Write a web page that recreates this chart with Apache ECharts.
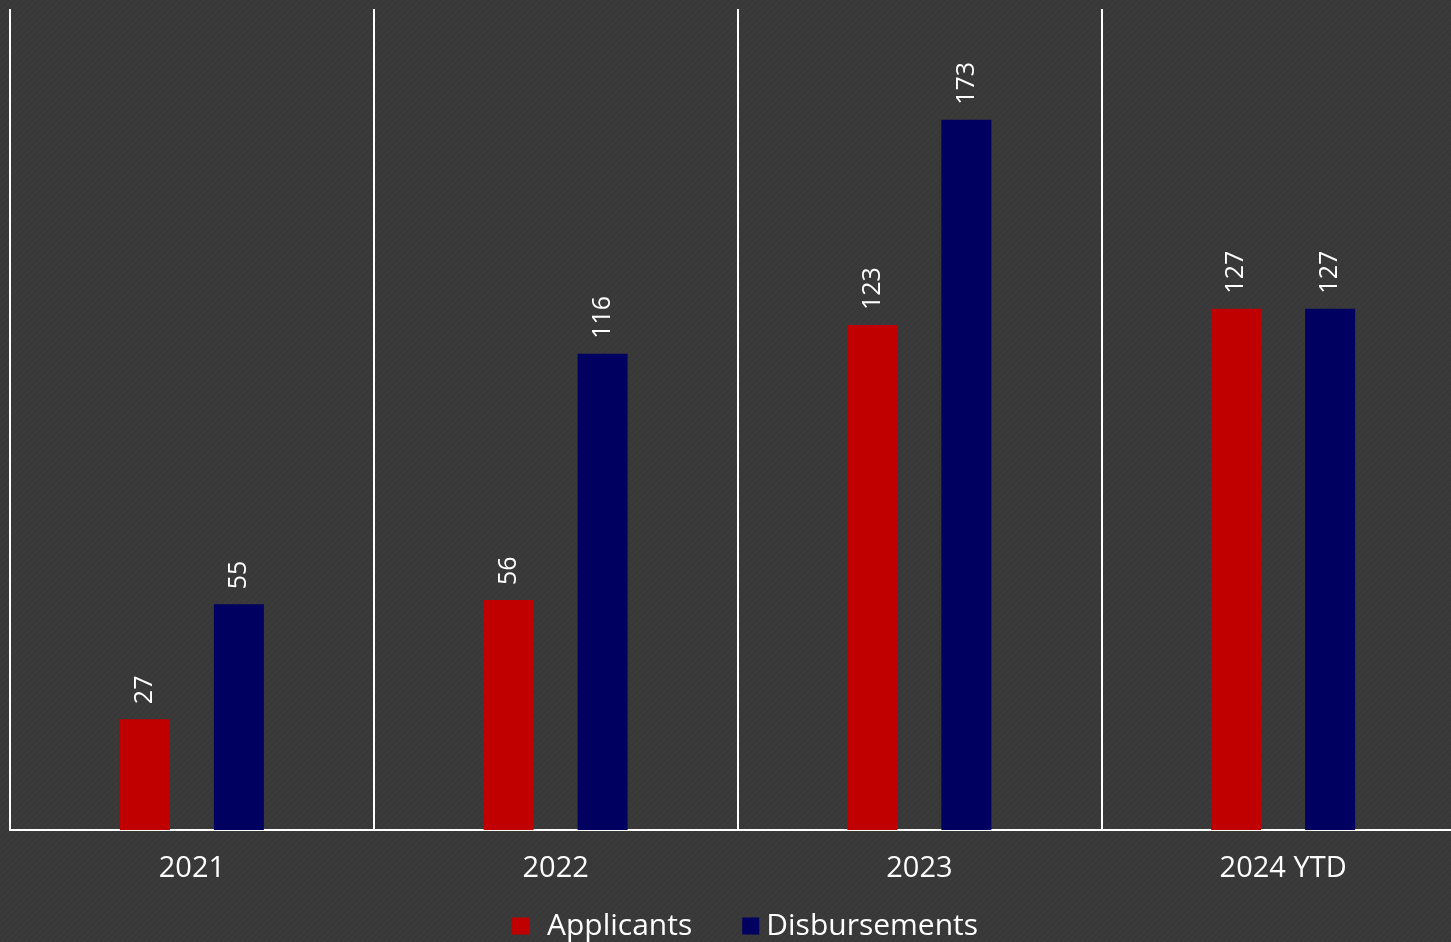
<!DOCTYPE html>
<html>
<head>
<meta charset="utf-8">
<script src="https://cdn.jsdelivr.net/npm/echarts@6/dist/echarts.min.js"></script>
<style>
html,body{margin:0;padding:0;background:#383838;overflow:hidden;}
#chart{width:1451px;height:942px;}
</style>
</head>
<body>
<div id="chart"></div>
<script>
const categories = ['2021', '2022', '2023', '2024 YTD'];
const applicants = [27, 56, 123, 127];
const disbursements = [55, 116, 173, 127];
const seriesNames = ['Applicants', 'Disbursements'];

// subtle diagonal stripe background pattern
const pc = document.createElement('canvas');
pc.width = 6; pc.height = 6;
const g = pc.getContext('2d');
g.fillStyle = '#383838';
g.fillRect(0, 0, 6, 6);
g.strokeStyle = '#3c3c3c';
g.lineWidth = 1.5;
g.beginPath();
g.moveTo(0, 6); g.lineTo(6, 0);
g.moveTo(-3, 3); g.lineTo(3, -3);
g.moveTo(3, 9); g.lineTo(9, 3);
g.stroke();

const chart = echarts.init(document.getElementById('chart'));
const labelStyle = {
  show: true,
  position: 'top',
  rotate: 90,
  align: 'left',
  verticalAlign: 'middle',
  distance: 15,
  color: '#ffffff',
  fontFamily: 'Open Sans',
  fontSize: 25
};
chart.setOption({
  animation: false,
  backgroundColor: {image: pc, repeat: 'repeat'},
  grid: {left: 10, top: 9, right: -14, height: 821, containLabel: false, outerBoundsMode: 'none'},
  legend: {
    show: true,
    data: seriesNames,
    left: 512,
    top: 911,
    padding: 0,
    itemWidth: 17,
    itemHeight: 17,
    itemGap: 50,
    icon: 'rect',
    formatter: function (name) {
      return name === 'Applicants' ? '{a|' + name + '}' : '{b|' + name + '}';
    },
    textStyle: {
      color: '#ffffff',
      fontFamily: 'Open Sans',
      fontSize: 30,
      rich: {
        a: {color: '#ffffff', fontFamily: 'Open Sans', fontSize: 30, padding: [0, 0, 0, 13]},
        b: {color: '#ffffff', fontFamily: 'Open Sans', fontSize: 30, padding: [0, 0, 0, 2]}
      }
    }
  },
  xAxis: {
    type: 'category',
    data: categories,
    boundaryGap: true,
    axisLine: {show: true, lineStyle: {color: '#ffffff', width: 2}},
    axisTick: {show: false},
    axisLabel: {color: '#ffffff', fontFamily: 'Open Sans', fontSize: 29, margin: 24},
    splitLine: {show: true, lineStyle: {color: '#ffffff', width: 2}}
  },
  yAxis: {
    type: 'value',
    min: 0,
    max: 200,
    show: false,
    splitLine: {show: false}
  },
  series: [
    {
      name: seriesNames[0],
      type: 'bar',
      data: applicants,
      barWidth: 50,
      barGap: '88%',
      itemStyle: {color: '#C00000'},
      label: labelStyle
    },
    {
      name: seriesNames[1],
      type: 'bar',
      data: disbursements,
      barWidth: 50,
      barGap: '88%',
      itemStyle: {color: '#000060'},
      label: labelStyle
    }
  ]
});
</script>
</body>
</html>
